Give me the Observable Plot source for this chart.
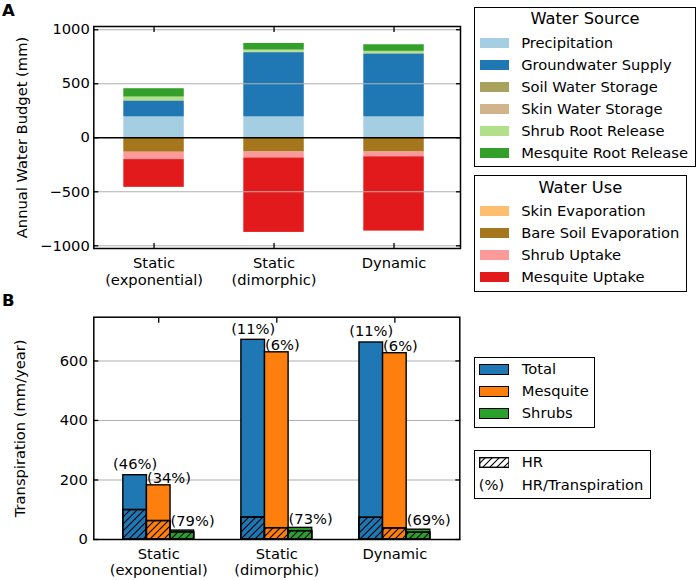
<!DOCTYPE html>
<html><head><meta charset="utf-8">
<script src="https://cdn.jsdelivr.net/npm/d3@7"></script>
<script src="https://cdn.jsdelivr.net/npm/@observablehq/plot@0.6"></script>
<style>
body{margin:0;background:#fff;font-family:"DejaVu Sans",sans-serif;color:#000;}
#root{position:relative;width:699px;height:580px;overflow:hidden;background:#fff;}
.plot{position:absolute;left:0;}
.panel{position:absolute;font-weight:bold;font-size:16.5px;line-height:20px;}
.legend{position:absolute;border:1.5px solid #000;box-sizing:border-box;background:#fff;font-size:14.7px;}
.legend .title{position:absolute;left:0;right:0;text-align:center;line-height:18px;white-space:nowrap;font-size:16.3px;}
.legend .sw{position:absolute;}
.legend .lab{position:absolute;line-height:16px;white-space:nowrap;}
</style></head>
<body><div id="root"></div>
<script>
// ---------- data ----------
const scenarios = ["Static\n(exponential)", "Static\n(dimorphic)", "Dynamic"];

// Panel A: annual water budget (mm)
const sourceNames  = ["Precipitation", "Groundwater Supply", "Soil Water Storage", "Skin Water Storage", "Shrub Root Release", "Mesquite Root Release"];
const sourceColors = ["#a6cee3", "#1f78b4", "#a9a25e", "#d2b48c", "#b2df8a", "#33a02c"];
const precipitation       = [193, 193, 193];
const groundwaterSupply   = [147, 595, 583];
const soilWaterStorage    = [3, 2, 2];
const skinWaterStorage    = [1, 1, 1];
const shrubRootRelease    = [33, 21, 21];
const mesquiteRootRelease = [77, 61, 61];

const useNames  = ["Skin Evaporation", "Bare Soil Evaporation", "Shrub Uptake", "Mesquite Uptake"];
const useColors = ["#fdbf6f", "#a6761d", "#fb9a99", "#e31a1c"];
const skinEvaporation     = [-2, -2, -2];
const bareSoilEvaporation = [-132, -130, -130];
const shrubUptake         = [-68, -55, -44];
const mesquiteUptake      = [-257, -689, -688];

const budgetTicks = [-1000, -500, 0, 500, 1000];

// Panel B: transpiration (mm/year)
const transSeries = ["Total", "Mesquite", "Shrubs"];
const transColors = ["#1f77b4", "#ff7f0e", "#2ca02c"];
const transTotal    = [216, 671, 662];
const transMesquite = [182, 629, 626];
const transShrubs   = [30, 39, 33];
const hrTotal    = [99, 74, 73];
const hrMesquite = [62, 38, 37];
const hrShrubs   = [24, 28, 23];
const pctTotal    = ["(46%)", "(11%)", "(11%)"];
const pctMesquite = ["(34%)", "(6%)", "(6%)"];
const pctShrubs   = ["(79%)", "(73%)", "(69%)"];
const transTicks = [0, 200, 400, 600];

// ---------- tables ----------
const sourceValues = [precipitation, groundwaterSupply, soilWaterStorage, skinWaterStorage, shrubRootRelease, mesquiteRootRelease];
const useValues = [skinEvaporation, bareSoilEvaporation, shrubUptake, mesquiteUptake];
const componentNames = [...sourceNames, ...useNames];
const componentColors = [...sourceColors, ...useColors];
const budget = [];
scenarios.forEach((s, j) => {
  sourceNames.forEach((n, i) => budget.push({scenario: s, component: n, value: sourceValues[i][j]}));
  useNames.forEach((n, i) => budget.push({scenario: s, component: n, value: useValues[i][j]}));
});
const transValues = [transTotal, transMesquite, transShrubs];
const hrValues = [hrTotal, hrMesquite, hrShrubs];
const pctValues = [pctTotal, pctMesquite, pctShrubs];
const trans = transSeries.map((ser, i) => scenarios.map((s, j) => ({scenario: s, series: ser, value: transValues[i][j], hr: hrValues[i][j], pct: pctValues[i][j]})));

const root = document.getElementById("root");
const font = {fontFamily: "DejaVu Sans", fontSize: "14.7px", color: "#000", background: "transparent", overflow: "visible"};
const fmt = d => d < 0 ? "\u2212" + (-d) : String(d);

// ---------- Panel A ----------
const plotA = Plot.plot({
  width: 470, height: 292,
  marginLeft: 93.3, marginRight: 10, marginTop: 26, marginBottom: 44,
  style: font,
  x: {domain: scenarios, paddingInner: 0.496, paddingOuter: 0.276, align: 0.453, round: false},
  y: {domain: [-1025, 1030]},
  color: {domain: componentNames, range: componentColors},
  marks: [
    Plot.barY(budget, {x: "scenario", y: "value", fill: "component"}),
    Plot.gridY(budgetTicks.filter(d => d !== 0), {stroke: "#b0b0b0", strokeOpacity: 1, strokeWidth: 1.1}),
    Plot.ruleY([0], {stroke: "#000", strokeWidth: 1.5}),
    Plot.frame({stroke: "#000", strokeWidth: 1.5}),
    Plot.axisY({ticks: budgetTicks, anchor: "left", tickSize: -5, fill: "none", label: null, strokeWidth: 1.3}),
    Plot.axisY({ticks: budgetTicks, anchor: "right", tickSize: -5, fill: "none", label: null, strokeWidth: 1.3}),
    Plot.axisY({ticks: budgetTicks, tickFormat: fmt, anchor: "left", tickSize: 0, tickPadding: 4, label: "Annual Water Budget (mm)", labelAnchor: "center", labelOffset: 77, labelArrow: false}),
    Plot.axisX({anchor: "top", tickSize: -5, fill: "none", label: null, strokeWidth: 1.3}),
    Plot.axisX({anchor: "bottom", tickSize: -5, fill: "none", label: null, strokeWidth: 1.3}),
    Plot.axisX({anchor: "bottom", tickSize: 0, tickPadding: 8, lineHeight: 1.14, label: null})
  ]
});
plotA.classList.add("plot");
plotA.style.top = "0px";
root.appendChild(plotA);

// ---------- Panel B ----------
const bLeft = 93.3, bWidth = 470, bRight = 10.7;
const bandB = d3.scaleBand().domain(scenarios).range([bLeft, bWidth - bRight]).paddingInner(0.4).paddingOuter(0.25);
const sub = bandB.bandwidth() / 3;
const barStyle = {stroke: "#000", strokeWidth: 1.4};
const seriesMarks = transSeries.flatMap((ser, i) => {
  const ins = {insetLeft: i * sub, insetRight: (2 - i) * sub};
  return [
    Plot.barY(trans[i], {x: "scenario", y: "value", fill: transColors[i], ...barStyle, ...ins}),
    Plot.barY(trans[i], {x: "scenario", y: "hr", fill: transColors[i], ...barStyle, ...ins}),
    Plot.barY(trans[i], {x: "scenario", y: "hr", fill: "url(#hatchB)", ...barStyle, ...ins})
  ];
});
const labelDy = [-11, -7, -9];
const textMarks = transSeries.map((ser, i) => Plot.text(trans[i], {
  x: "scenario", y: "value", text: "pct",
  dx: i === 0 ? -sub : (i === 1 ? -sub / 2 : sub / 2),
  textAnchor: i === 0 ? "middle" : "start",
  dy: labelDy[i], lineAnchor: "middle", fill: "#000"
}));
const plotB = Plot.plot({
  width: bWidth, height: 290,
  marginLeft: bLeft, marginRight: bRight, marginTop: 26.7, marginBottom: 41,
  style: font,
  x: {domain: scenarios, paddingInner: 0.4, paddingOuter: 0.25, round: false},
  y: {domain: [0, 747]},
  marks: [
    Plot.gridY(transTicks.filter(d => d !== 0), {stroke: "#b0b0b0", strokeOpacity: 1, strokeWidth: 1.1}),
    Plot.axisY({ticks: transTicks, anchor: "left", tickSize: -5, fill: "none", label: null, strokeWidth: 1.3}),
    Plot.axisY({ticks: transTicks, anchor: "right", tickSize: -5, fill: "none", label: null, strokeWidth: 1.3}),
    Plot.axisX({anchor: "top", tickSize: -5, fill: "none", label: null, strokeWidth: 1.3}),
    Plot.axisX({anchor: "bottom", tickSize: -5, fill: "none", label: null, strokeWidth: 1.3}),
    ...seriesMarks,
    ...textMarks,
    Plot.frame({stroke: "#000", strokeWidth: 1.5}),
    Plot.axisY({ticks: transTicks, anchor: "left", tickSize: 0, tickPadding: 6, label: "Transpiration (mm/year)", labelAnchor: "center", labelOffset: 79, labelArrow: false}),
    Plot.axisX({anchor: "bottom", tickSize: 0, tickPadding: 8, lineHeight: 1.1, label: null})
  ]
});
const pat = d3.select(plotB).insert("defs", ":first-child").append("pattern")
  .attr("id", "hatchB").attr("patternUnits", "userSpaceOnUse").attr("width", 7).attr("height", 7);
pat.append("path").attr("d", "M-1,1 l2,-2 M0,7 l7,-7 M6,8 l2,-2").attr("stroke", "#000").attr("stroke-width", 1.1);
plotB.classList.add("plot");
plotB.style.top = "290px";
root.appendChild(plotB);

// ---------- panel letters ----------
[["A", 1.3], ["B", 291.3]].forEach(([t, top]) => {
  const d = document.createElement("div");
  d.className = "panel"; d.textContent = t;
  d.style.left = "2px"; d.style.top = top + "px";
  root.appendChild(d);
});

// ---------- legends ----------
function legend({left, top, width, height, title, titleY, items, firstY, step, swLeft, swW, swH, textLeft}) {
  const box = d3.select(root).append("div").attr("class", "legend")
    .style("left", left + "px").style("top", top + "px")
    .style("width", width + "px").style("height", height + "px");
  const b = 1.5;
  if (title) box.append("div").attr("class", "title").style("top", (titleY - top - b - 9) + "px").text(title);
  items.forEach((it, k) => {
    const cy = firstY + k * step - top - b;
    if (it.color) {
      box.append("div").attr("class", "sw")
        .style("left", (swLeft - left - b) + "px").style("top", (cy - swH / 2) + "px")
        .style("width", swW + "px").style("height", swH + "px")
        .style("background", it.color)
        .style("box-sizing", "border-box")
        .style("border", it.border ? "1.4px solid #000" : "none");
    } else if (it.hatch) {
      const s = box.append("svg").attr("class", "sw")
        .style("left", (swLeft - left - b) + "px").style("top", (cy - swH / 2) + "px")
        .attr("width", swW).attr("height", swH);
      const p = s.append("defs").append("pattern").attr("id", "hatchL").attr("patternUnits", "userSpaceOnUse").attr("width", 7).attr("height", 7);
      p.append("path").attr("d", "M-1,1 l2,-2 M0,7 l7,-7 M6,8 l2,-2").attr("stroke", "#000").attr("stroke-width", 1.1);
      s.append("rect").attr("x", 0.7).attr("y", 0.7).attr("width", swW - 1.4).attr("height", swH - 1.4)
        .attr("fill", "url(#hatchL)").attr("stroke", "#000").attr("stroke-width", 1.4);
    } else if (it.symbol) {
      box.append("div").attr("class", "lab")
        .style("left", (swLeft - left - b) + "px").style("top", (cy - 8) + "px").text(it.symbol);
    }
    box.append("div").attr("class", "lab")
      .style("left", (textLeft - left - b) + "px").style("top", (cy - 8) + "px").text(it.label);
  });
}
legend({left: 474, top: 7.3, width: 222, height: 159.5, title: "Water Source", titleY: 20,
  items: sourceNames.map((n, i) => ({label: n, color: sourceColors[i]})),
  firstY: 43.3, step: 22.1, swLeft: 480, swW: 29, swH: 10, textLeft: 521.7});
legend({left: 474, top: 175, width: 212.7, height: 117, title: "Water Use", titleY: 188.3,
  items: useNames.map((n, i) => ({label: n, color: useColors[i]})),
  firstY: 211, step: 22.1, swLeft: 480, swW: 29, swH: 10, textLeft: 521.7});
legend({left: 474, top: 357.3, width: 121, height: 70.4,
  items: transSeries.map((n, i) => ({label: n, color: transColors[i], border: true})),
  firstY: 370, step: 22, swLeft: 479.3, swW: 30.7, swH: 11, textLeft: 522.3});
legend({left: 474, top: 450, width: 176.7, height: 49,
  items: [{label: "HR", hatch: true}, {label: "HR/Transpiration", symbol: "(%)"}],
  firstY: 462.7, step: 22.3, swLeft: 479.3, swW: 30.7, swH: 11, textLeft: 522.3});
</script>
</body></html>
